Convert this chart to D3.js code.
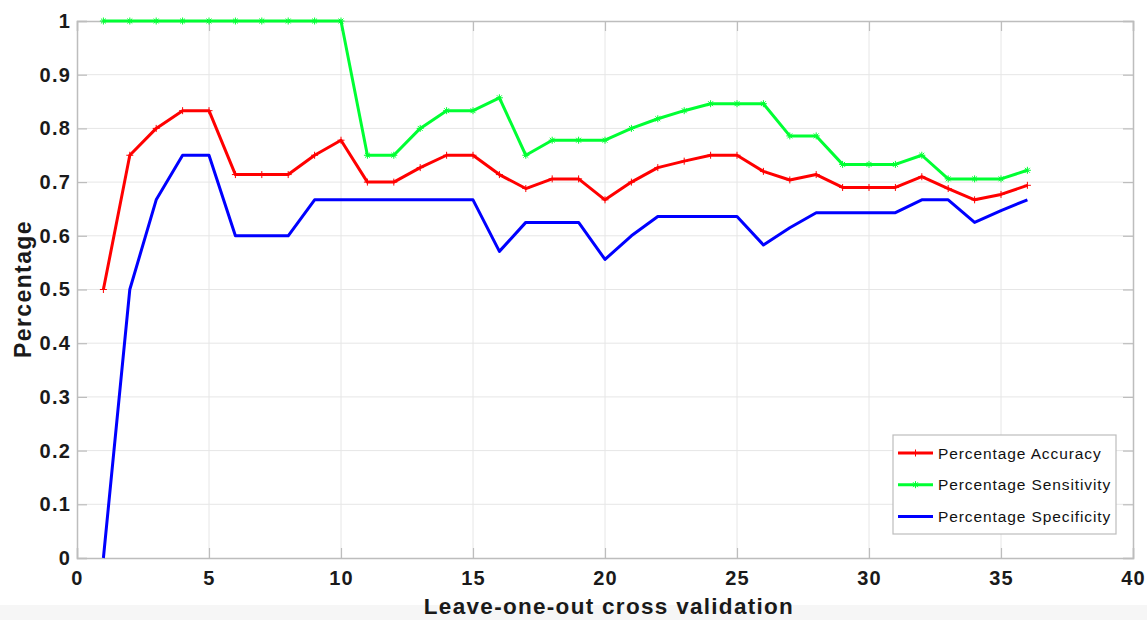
<!DOCTYPE html>
<html>
<head>
<meta charset="utf-8">
<script src="https://cdn.jsdelivr.net/npm/d3@7"></script>
<style>
  body { margin: 0; background: #fff; }
  svg { display: block; font-family: "Liberation Sans", Arial, Helvetica, sans-serif; }
</style>
</head>
<body>
<svg id="chart" width="1147" height="620"></svg>
<script>
// leave-one-out folds
let folds = [1, 2, 3, 4, 5, 6, 7, 8, 9, 10, 11, 12, 13, 14, 15, 16, 17, 18,
  19, 20, 21, 22, 23, 24, 25, 26, 27, 28, 29, 30, 31, 32, 33, 34, 35, 36];

let accuracy = [0.5, 0.75, 0.8, 0.833, 0.833, 0.714, 0.714, 0.714, 0.75, 0.778,
  0.7, 0.7, 0.727, 0.75, 0.75, 0.714, 0.688, 0.706, 0.706, 0.667,
  0.7, 0.727, 0.739, 0.75, 0.75, 0.72, 0.704, 0.714, 0.69, 0.69,
  0.69, 0.71, 0.688, 0.667, 0.677, 0.694];

let sensitivity = [1, 1, 1, 1, 1, 1, 1, 1, 1, 1,
  0.75, 0.75, 0.8, 0.833, 0.833, 0.857, 0.75, 0.778, 0.778, 0.778,
  0.8, 0.818, 0.833, 0.846, 0.846, 0.846, 0.786, 0.786, 0.733, 0.733,
  0.733, 0.75, 0.706, 0.706, 0.706, 0.722];

let specificity = [0, 0.5, 0.667, 0.75, 0.75, 0.6, 0.6, 0.6, 0.667, 0.667,
  0.667, 0.667, 0.667, 0.667, 0.667, 0.571, 0.625, 0.625, 0.625, 0.556,
  0.6, 0.636, 0.636, 0.636, 0.636, 0.583, 0.615, 0.643, 0.643, 0.643,
  0.643, 0.667, 0.667, 0.625, 0.647, 0.667];

let xTicks = [0, 5, 10, 15, 20, 25, 30, 35, 40];
let yTicks = [0, 0.1, 0.2, 0.3, 0.4, 0.5, 0.6, 0.7, 0.8, 0.9, 1];

let series = [
  { name: 'Percentage Accuracy', values: accuracy, color: '#ff0000', marker: 'plus' },
  { name: 'Percentage Sensitivity', values: sensitivity, color: '#00ff33', marker: 'star' },
  { name: 'Percentage Specificity', values: specificity, color: '#0000ff', marker: 'none' }
];

let svg = d3.select('#chart');
let width = 1147;
let height = 620;

// faint strip at the very bottom of the screenshot
svg.append('rect')
  .attr('x', 0).attr('y', 605)
  .attr('width', width).attr('height', height - 605)
  .attr('fill', '#f6f6f6');

let plotL = 77, plotR = 1133, plotT = 21, plotB = 558;

let x = d3.scaleLinear().domain([0, 40]).range([plotL, plotR]);
let y = d3.scaleLinear().domain([0, 1]).range([plotB, plotT]);

// grid
let grid = svg.append('g');
grid.selectAll('.gx')
  .data(xTicks.slice(1, -1))
  .enter().append('line')
  .attr('x1', d => x(d)).attr('x2', d => x(d))
  .attr('y1', plotT).attr('y2', plotB)
  .attr('stroke', '#e6e6e6').attr('stroke-width', 1);
grid.selectAll('.gy')
  .data(yTicks.slice(1, -1))
  .enter().append('line')
  .attr('x1', plotL).attr('x2', plotR)
  .attr('y1', d => y(d)).attr('y2', d => y(d))
  .attr('stroke', '#e6e6e6').attr('stroke-width', 1);

// axes, ticks pointing inward
let xAxis = d3.axisBottom(x).tickValues(xTicks).tickSize(-10).tickPadding(13);
let yAxis = d3.axisLeft(y).tickValues(yTicks).tickSize(-10).tickPadding(6)
  .tickFormat(d => d3.format('~g')(d));
let xAxisTop = d3.axisTop(x).tickValues(xTicks).tickSize(-10).tickFormat('');
let yAxisRight = d3.axisRight(y).tickValues(yTicks).tickSize(-10).tickFormat('');

function styleAxis(g) {
  g.select('.domain').attr('stroke', '#bdbdbd').attr('stroke-width', 1.5);
  g.selectAll('.tick line').attr('stroke', '#bdbdbd').attr('stroke-width', 1.2);
  g.selectAll('.tick text')
    .attr('fill', '#1a1a1a')
    .style('font-size', '20px')
    .style('font-weight', 'bold')
    .style('letter-spacing', '1.2px');
}

svg.append('g')
  .attr('transform', `translate(0,${plotB})`)
  .call(xAxis)
  .call(styleAxis);
svg.append('g')
  .attr('transform', `translate(${plotL},0)`)
  .call(yAxis)
  .call(styleAxis);
svg.append('g')
  .attr('transform', `translate(0,${plotT})`)
  .call(xAxisTop)
  .call(styleAxis);
svg.append('g')
  .attr('transform', `translate(${plotR},0)`)
  .call(yAxisRight)
  .call(styleAxis);

// lines
let line = d3.line()
  .x((d, i) => x(folds[i]))
  .y(d => y(d));

let plot = svg.append('g');

function drawMarker(g, type, cx, cy, color) {
  let s = 3.5;
  if (type === 'plus') {
    g.append('path')
      .attr('d', `M${cx - s},${cy}H${cx + s}M${cx},${cy - s}V${cy + s}`)
      .attr('stroke', color).attr('stroke-width', 1);
  } else if (type === 'star') {
    g.append('path')
      .attr('d', `M${cx - s},${cy}H${cx + s}M${cx},${cy - s}V${cy + s}` +
        `M${cx - s * 0.7},${cy - s * 0.7}L${cx + s * 0.7},${cy + s * 0.7}` +
        `M${cx - s * 0.7},${cy + s * 0.7}L${cx + s * 0.7},${cy - s * 0.7}`)
      .attr('stroke', color).attr('stroke-width', 1);
  }
}

for (let s of series) {
  plot.append('path')
    .datum(s.values)
    .attr('fill', 'none')
    .attr('stroke', s.color)
    .attr('stroke-width', 3)
    .attr('stroke-linejoin', 'round')
    .attr('d', line);
  let mg = plot.append('g');
  s.values.forEach((v, i) => drawMarker(mg, s.marker, x(folds[i]), y(v), s.color));
}

// axis labels
svg.append('text')
  .attr('x', 609)
  .attr('y', 614)
  .attr('text-anchor', 'middle')
  .attr('fill', '#1a1a1a')
  .style('font-size', '22.5px')
  .style('font-weight', 'bold')
  .style('letter-spacing', '1.3px')
  .text('Leave-one-out cross validation');

svg.append('text')
  .attr('transform', 'translate(31,289) rotate(-90)')
  .attr('text-anchor', 'middle')
  .attr('fill', '#1a1a1a')
  .style('font-size', '23px')
  .style('font-weight', 'bold')
  .style('letter-spacing', '1.4px')
  .text('Percentage');

// legend
let legend = svg.append('g').attr('transform', 'translate(893,435)');
legend.append('rect')
  .attr('width', 223).attr('height', 99)
  .attr('fill', '#fff')
  .attr('stroke', '#bdbdbd').attr('stroke-width', 1.2);

series.forEach((s, i) => {
  let ly = 18 + i * 31.7;
  legend.append('line')
    .attr('x1', 5).attr('x2', 40)
    .attr('y1', ly).attr('y2', ly)
    .attr('stroke', s.color).attr('stroke-width', 3);
  drawMarker(legend, s.marker, 22.5, ly, s.color);
  legend.append('text')
    .attr('x', 45).attr('y', ly + 5.5)
    .attr('fill', '#111')
    .style('font-size', '15.5px')
    .style('letter-spacing', '0.9px')
    .text(s.name);
});
</script>
</body>
</html>
